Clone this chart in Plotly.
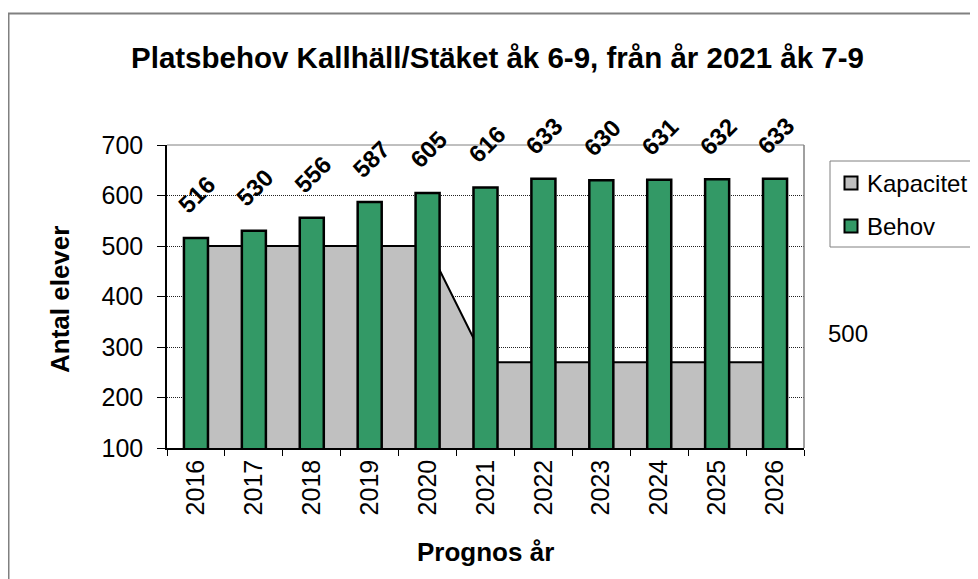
import plotly.graph_objects as go

years = ["2016", "2017", "2018", "2019", "2020", "2021", "2022", "2023", "2024", "2025", "2026"]
kapacitet = [500, 500, 500, 500, 500, 270, 270, 270, 270, 270, 270]
behov = [516, 530, 556, 587, 605, 616, 633, 630, 631, 632, 633]
y_ticks = [100, 200, 300, 400, 500, 600, 700]
side_note = "500"

FONT = "Liberation Sans, Arial, sans-serif"
OFF = 8  # page body margin
W, H = 978 - OFF, 579 - OFF
L, R, T, B = 167 - OFF, 174, 145 - OFF, 131
PW, PH = W - L - R, H - T - B


def px(x):
    return (x - OFF - L) / PW


def py(y):
    return (H - B - (y - OFF)) / PH


fig = go.Figure()

fig.add_trace(go.Scatter(
    x=years, y=kapacitet, name="Kapacitet", mode="lines",
    line=dict(color="black", width=2), fill="tozeroy", fillcolor="#C0C0C0",
    xaxis="x", yaxis="y", showlegend=False, hoverinfo="skip",
))

fig.add_trace(go.Bar(
    x=years, y=behov, name="Behov",
    marker=dict(color="#339966", line=dict(color="black", width=2.5)),
    xaxis="x2", yaxis="y2", showlegend=False,
))

annotations = []
for i, v in enumerate(behov):
    # category axes take the category's serial number for annotation positions
    annotations.append(dict(
        x=i, y=v, xref="x", yref="y", text=f"<b>{v}</b>", showarrow=False,
        textangle=-45, xanchor="center", yanchor="middle", xshift=1, yshift=43,
        font=dict(family=FONT, size=24, color="black"),
    ))

annotations += [
    dict(x=px(60), y=py(300), xref="paper", yref="paper", text="<b>Antal elever</b>",
         textangle=-90, showarrow=False, xanchor="center", yanchor="middle",
         font=dict(family=FONT, size=26, color="black")),
    dict(x=px(486), y=py(552), xref="paper", yref="paper", text="<b>Prognos år</b>",
         showarrow=False, xanchor="center", yanchor="middle",
         font=dict(family=FONT, size=26, color="black")),
    dict(x=px(865), y=py(183), xref="paper", yref="paper", text="Kapacitet",
         showarrow=False, xanchor="left", yanchor="middle",
         font=dict(family=FONT, size=24, color="black")),
    dict(x=px(865), y=py(226), xref="paper", yref="paper", text="Behov",
         showarrow=False, xanchor="left", yanchor="middle",
         font=dict(family=FONT, size=24, color="black")),
    dict(x=px(848), y=py(333), xref="paper", yref="paper", text=side_note,
         showarrow=False, xanchor="center", yanchor="middle",
         font=dict(family=FONT, size=24, color="black")),
]

shapes = [
    # outer chart border (extends past the window)
    dict(type="rect", xref="paper", yref="paper", x0=px(8.5), y0=py(13.5), x1=px(1010), y1=py(620),
         line=dict(color="#808080", width=2), fillcolor="rgba(0,0,0,0)", layer="below"),
    # plot area border top/right
    dict(type="line", xref="paper", yref="paper", x0=0, y0=1, x1=1, y1=1,
         line=dict(color="#808080", width=1)),
    dict(type="line", xref="paper", yref="paper", x0=1, y0=0, x1=1, y1=1,
         line=dict(color="#808080", width=1.5)),
    # legend box
    dict(type="rect", xref="paper", yref="paper", x0=px(830), y0=py(161), x1=px(1010), y1=py(247),
         line=dict(color="#808080", width=1), fillcolor="white"),
    dict(type="rect", xref="paper", yref="paper", x0=px(844.5), y0=py(176.5), x1=px(857.5), y1=py(189.5),
         line=dict(color="black", width=2), fillcolor="#C0C0C0"),
    dict(type="rect", xref="paper", yref="paper", x0=px(844.5), y0=py(219.5), x1=px(857.5), y1=py(232.5),
         line=dict(color="black", width=2), fillcolor="#339966"),
]

fig.update_layout(
    width=W, height=H,
    margin=dict(l=L, r=R, t=T, b=B, pad=0),
    paper_bgcolor="white", plot_bgcolor="white",
    showlegend=False,
    bargap=0.585,
    title=dict(text="<b>Platsbehov Kallhäll/Stäket åk 6-9, från år 2021 åk 7-9</b>",
               x=(497.5 - OFF) / W, xref="container", xanchor="center",
               y=1 - (58 - OFF) / H, yref="container", yanchor="middle",
               font=dict(family=FONT, size=29.5, color="black")),
    xaxis=dict(type="category", categoryorder="array", categoryarray=years,
               range=[-0.5, 10.5], showline=True, linecolor="black", linewidth=1.5,
               ticks="outside", tickson="boundaries", ticklen=6, tickcolor="black", tickwidth=1,
               tickangle=-90, showgrid=False, zeroline=False,
               tickfont=dict(family=FONT, size=25, color="black")),
    yaxis=dict(range=[100, 700], tickvals=y_ticks, showline=True, linecolor="black", linewidth=1.5,
               ticks="outside", ticklen=8, tickcolor="black", tickwidth=1, ticklabelstandoff=9,
               showgrid=True, gridcolor="#222", gridwidth=1, griddash="1px,1px", zeroline=False,
               tickfont=dict(family=FONT, size=25, color="black")),
    xaxis2=dict(type="category", categoryorder="array", categoryarray=years,
                range=[-0.5, 10.5], overlaying="x", anchor="y2", visible=False),
    yaxis2=dict(range=[100, 700], overlaying="y", anchor="x2", visible=False),
    annotations=annotations,
    shapes=shapes,
)

fig.write_html("out.html")
